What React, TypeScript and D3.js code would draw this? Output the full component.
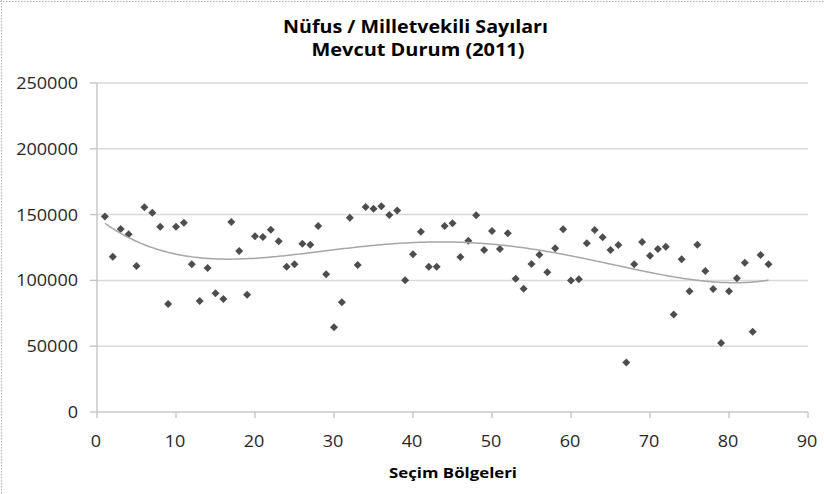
import React from "react";
import * as d3 from "d3";

const districts: number[] = d3.range(1, 86);
const population: number[] = [
  148500, 118000, 139000, 135000, 111000, 155500, 151500, 140800, 82000, 140800,
  143800, 112200, 84300, 109400, 90200, 85900, 144400, 122300, 89100, 133500,
  133000, 138500, 129700, 110400, 112200, 127900, 127100, 141300, 104600, 64400,
  83400, 147700, 111700, 155800, 154500, 156300, 149700, 153200, 100100, 119800,
  137000, 110400, 110400, 141300, 143400, 117800, 130200, 149500, 123100, 137500,
  123900, 135800, 101300, 93700, 112500, 119500, 106200, 124400, 138800, 99900,
  100800, 128200, 138300, 132700, 123100, 126900, 37700, 112200, 129200, 118800,
  123900, 125600, 74000, 116000, 91700, 127100, 107100, 93500, 52400, 91700,
  101600, 113500, 61000, 119300, 112200,
];
const xTicks: number[] = [0, 10, 20, 30, 40, 50, 60, 70, 80, 90];
const yTicks: number[] = [0, 50000, 100000, 150000, 200000, 250000];
const titleLines: string[] = ["Nüfus / Milletvekili Sayıları", "Mevcut Durum (2011)"];
const xTitle = "Seçim Bölgeleri";

function polyFit(xs: number[], ys: number[], order: number) {
  const s = 100;
  const n = order + 1;
  const A: number[][] = Array.from({ length: n }, () => new Array(n + 1).fill(0));
  xs.forEach((xv, k) => {
    const x = xv / s;
    for (let i = 0; i < n; i++) {
      for (let j = 0; j < n; j++) A[i][j] += Math.pow(x, i + j);
      A[i][n] += Math.pow(x, i) * ys[k];
    }
  });
  for (let c = 0; c < n; c++) {
    let p = c;
    for (let r = c + 1; r < n; r++) if (Math.abs(A[r][c]) > Math.abs(A[p][c])) p = r;
    [A[c], A[p]] = [A[p], A[c]];
    for (let r = 0; r < n; r++) {
      if (r === c) continue;
      const f = A[r][c] / A[c][c];
      for (let k = c; k <= n; k++) A[r][k] -= f * A[c][k];
    }
  }
  const coef = A.map((row, i) => row[n] / row[i]);
  return (xv: number) => coef.reduce((acc, cf, i) => acc + cf * Math.pow(xv / s, i), 0);
}

export default function App() {
  const W = 824, H = 494;
  const x = d3.scaleLinear().domain([0, 90]).range([97, 808]);
  const y = d3.scaleLinear().domain([0, 250000]).range([412, 83]);
  const fit = polyFit(districts, population, 4);
  const trendPts = d3.range(1, 85.01, 0.25).map((v) => [x(v), y(fit(v))] as [number, number]);
  const line = d3.line().curve(d3.curveLinear)(trendPts) || "";
  const font = "'Open Sans', 'Liberation Sans', sans-serif";
  const r = 4;
  const diamond = `M0,${-r}L${r},0L0,${r}L${-r},0Z`;
  const titleGeom = [
    { cx: 415.5, y: 33, len: 265 },
    { cx: 418, y: 56, len: 213 },
  ];
  return (
    <div style={{ position: "absolute", left: 0, top: 0, width: W, height: H }}>
      <svg width={W} height={H} style={{ display: "block", background: "#fff" }}>
        <line x1={0} x2={W} y1={1.5} y2={1.5} stroke="#b0b0b0" strokeDasharray="1.5,1.5" />
        <line x1={1.5} x2={1.5} y1={0} y2={H} stroke="#b0b0b0" strokeDasharray="1.5,1.5" />
        {titleLines.map((t, i) => (
          <text key={t} x={titleGeom[i].cx} y={titleGeom[i].y} textAnchor="middle" fontFamily={font} fontWeight="bold" fontSize={18}
            textLength={titleGeom[i].len} lengthAdjust="spacingAndGlyphs" fill="#000">
            {t}
          </text>
        ))}
        {yTicks.map((t) => (
          <g key={t}>
            {t > 0 && <line x1={x(0)} x2={x(90)} y1={y(t)} y2={y(t)} stroke="#d9d9d9" strokeWidth={1.5} />}
            <line x1={90} x2={x(0)} y1={y(t)} y2={y(t)} stroke="#c8c8c8" strokeWidth={1.5} />
            <text x={78} y={y(t) + 6} textAnchor="end" fontFamily={font} fontSize={16} fill="#262626"
              textLength={String(t).length * 10.3} lengthAdjust="spacingAndGlyphs">
              {t}
            </text>
          </g>
        ))}
        <line x1={x(0)} x2={x(0)} y1={y(250000)} y2={y(0)} stroke="#c8c8c8" strokeWidth={1.5} />
        <line x1={x(0)} x2={x(90)} y1={y(0)} y2={y(0)} stroke="#c8c8c8" strokeWidth={1.5} />
        {xTicks.map((t) => (
          <g key={t}>
            <line x1={x(t)} x2={x(t)} y1={y(0)} y2={y(0) + 6} stroke="#c8c8c8" strokeWidth={1.5} />
            <text x={x(t) - 1} y={447} textAnchor="middle" fontFamily={font} fontSize={16} fill="#262626"
              textLength={String(t).length * 10.3} lengthAdjust="spacingAndGlyphs">
              {t}
            </text>
          </g>
        ))}
        <text x={453} y={478} textAnchor="middle" fontFamily={font} fontWeight="bold" fontSize={15} fill="#000"
          textLength={128} lengthAdjust="spacingAndGlyphs">
          {xTitle}
        </text>
        {population.map((v, i) => (
          <path key={i} d={diamond} transform={`translate(${x(districts[i])},${y(v)})`} fill="#4d4d4d" />
        ))}
        <path d={line} fill="none" stroke="#a6a6a6" strokeWidth={1.5} />
      </svg>
    </div>
  );
}
